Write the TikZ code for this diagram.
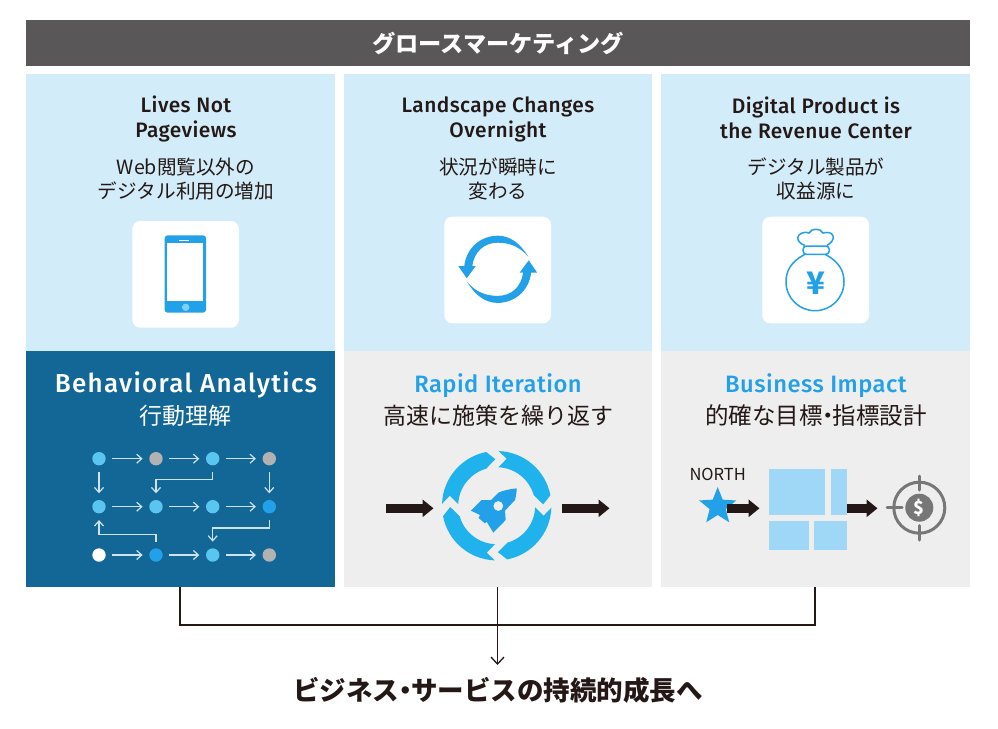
\documentclass[tikz,border=0pt]{standalone}
\usepackage{fontspec}
\setmainfont{Noto Sans CJK JP}
\newfontfamily\titlefont[LetterSpace=2]{Fira Sans Medium}
\newfontfamily\headfont[LetterSpace=2]{Fira Sans Medium}
\newfontfamily\widefont[LetterSpace=5]{Fira Sans Medium}
\newcommand{\midmark}{\kern-.28em・\kern-.28em}
\usetikzlibrary{arrows.meta,shapes.geometric}
\definecolor{headgray}{HTML}{595757}
\definecolor{paleblue}{HTML}{D2ECF9}
\definecolor{palegray}{HTML}{EEEEEE}
\definecolor{deepblue}{HTML}{126796}
\definecolor{iconblue}{HTML}{22A0E8}
\definecolor{ringblue}{HTML}{20B2EC}
\definecolor{skyblue}{HTML}{5BC5F2}
\definecolor{dotgray}{HTML}{B2B2B2}
\definecolor{tileblue}{HTML}{9FD8F6}
\definecolor{inkblack}{HTML}{231815}
\definecolor{flowline}{HTML}{CFE3EE}
\definecolor{targetgray}{HTML}{777777}
\tikzset{
  titletext/.style={font=\fontsize{20.9}{25.2}\selectfont\titlefont, text=inkblack, align=center},
  subtext/.style={font=\fontsize{19.6}{24.5}\selectfont, text=inkblack, align=center},
  headtext/.style={font=\fontsize{23.7}{30}\selectfont\headfont},
  jptext/.style={font=\fontsize{23}{28}\selectfont, text=inkblack},
  iconbox/.style={fill=white, rounded corners=8pt},
  dot/.style={circle, inner sep=0pt, minimum size=13.4pt, fill=#1},
  flowarrow/.style={draw=flowline, line width=1.2pt, -{Straight Barb[length=5pt,width=9pt]}, shorten >=6.5pt, shorten <=6.5pt},
  bigarrow/.style={draw=inkblack, line width=9pt, -{Triangle[length=11pt,width=17pt]}},
  linkline/.style={draw=inkblack, line width=1.3pt}
}
\begin{document}
\begin{tikzpicture}[x=1pt,y=-1pt]
\useasboundingbox (0,0) rectangle (998,728);
% header and panels
\fill[headgray] (26,20) rectangle (970,66);
\node[font=\fontsize{23.2}{28}\selectfont\bfseries, text=white] (header) at (498,43) {グロースマーケティング};
\fill[paleblue] (26,74) rectangle (335,351);
\fill[paleblue] (344,74) rectangle (652,351);
\fill[paleblue] (661,74) rectangle (970,351);
\fill[deepblue] (26,351) rectangle (335,587);
\fill[palegray] (344,351) rectangle (652,587);
\fill[palegray] (661,351) rectangle (970,587);
% upper texts
\node[titletext] (title1) at (186,119) {Lives Not\\Pageviews};
\node[titletext] (title2) at (498,119.5) {Landscape Changes\\Overnight};
\node[titletext] (title3) at (816,117.5) {Digital Product is\\the Revenue Center};
\node[subtext] (sub1) at (186,179) {Web閲覧以外の\\デジタル利用の増加};
\node[subtext] (sub2) at (498,179) {状況が瞬時に\\変わる};
\node[subtext] (sub3) at (816,179) {デジタル製品が\\収益源に};
% phone
\fill[iconbox] (132.3,221) rectangle (239,327.7);
\fill[iconblue, rounded corners=3pt] (164.7,235.3) rectangle (206,312.7);
\fill[white] (167.3,243.3) rectangle (203.3,301.3);
\fill[white] (179,239.6) rectangle (189,240.8);
\fill[skyblue!80!white] (185.7,307.3) circle (3.7);
% sync arrows
\fill[iconbox] (444.3,216.7) rectangle (551,323.3);
\foreach \rot in {0,180}
  \fill[iconblue, rotate around={\rot:(497.7,269.3)}] (528.3,256.7) .. controls (520,243) and (510,235.7) .. (497.7,235.7) .. controls (480,235.7) and (466,249) .. (464.3,266) -- (458.3,266) -- (466.7,278.3) -- (475.7,266) -- (472.3,266) .. controls (474,252) and (484,242.7) .. (497.7,242.7) .. controls (510,242.7) and (520,247) .. (528.3,256.7) -- cycle;
% money bag
\fill[iconbox] (762.3,216.7) rectangle (869,323.3);
\draw[iconblue, line width=1.5pt] (805,254.3) .. controls (790,262) and (786,272) .. (786,281.7) .. controls (786,298) and (799,310.7) .. (815,310.7) .. controls (831,310.7) and (844,298) .. (844,281.7) .. controls (844,272) and (840,262) .. (825,254.3);
\draw[iconblue, line width=1.5pt, rounded corners=3.5pt] (803,246) rectangle (829.3,254.3);
\draw[iconblue, line width=1.5pt] (805,245.5) .. controls (798,243) and (796,238) .. (799,235) .. controls (802,232) and (806,232) .. (809,233) .. controls (811,228) and (821,228) .. (823,233) .. controls (827,232) and (832,232) .. (833,236) .. controls (834,240) and (831,243) .. (827,245.5);
\node[font=\fontsize{31}{31}\selectfont\bfseries, text=iconblue, inner sep=0pt] (yen) at (815.5,283.5) {¥};
% lower texts
\node[font=\fontsize{26}{30}\selectfont\widefont, text=white] (head1) at (186,385) {Behavioral Analytics};
\node[headtext, text=iconblue] (head2) at (498,386) {Rapid Iteration};
\node[headtext, text=iconblue] (head3) at (816,386) {Business Impact};
\node[jptext, text=white] (jp1) at (185,416) {行動理解};
\node[jptext] (jp2) at (498,416) {高速に施策を繰り返す};
\node[jptext, font=\fontsize{23.5}{28}\selectfont] (jp3) at (816,416) {的確な目標\midmark 指標設計};
% flow of dots
\node[dot=skyblue] (d11) at (99,458.7) {};
\node[dot=dotgray] (d12) at (156,458.7) {};
\node[dot=skyblue] (d13) at (212.7,458.7) {};
\node[dot=dotgray] (d14) at (269.3,458.7) {};
\node[dot=skyblue] (d21) at (99,506.7) {};
\node[dot=skyblue] (d22) at (156,506.7) {};
\node[dot=skyblue] (d23) at (212.7,506.7) {};
\node[dot=iconblue] (d24) at (269.3,506.7) {};
\node[dot=white] (d31) at (99,555) {};
\node[dot=iconblue] (d32) at (156,555) {};
\node[dot=skyblue] (d33) at (212.7,555) {};
\node[dot=dotgray] (d34) at (269.3,555) {};
\foreach \r in {1,2,3}
  \foreach \a/\b in {1/2,2/3,3/4}
    \draw[flowarrow] (d\r\a) -- (d\r\b);
\draw[flowarrow] (d11) -- (d21);
\draw[flowarrow] (d14) -- (d24);
\draw[flowarrow] (d13.south) -- ++(0,13.9) -| (d22.north);
\draw[flowarrow] (d24.south) -- ++(0,14.3) -| (d33.north);
\draw[flowarrow] (d32.north) -- ++(0,-14) -| (d21.south);
% rocket and ring
\coordinate (in2) at (386,508.3);
\coordinate (out2) at (609.5,508.3);
\coordinate (ringin) at (433.5,508.3);
\coordinate (ringout) at (561.7,508.3);
\draw[bigarrow] (in2) -- (ringin);
\draw[bigarrow] (ringout) -- (out2);
\foreach \rot in {0,90,180,270}
  \fill[ringblue, shift={(496.7,505.7)}, yscale=-1, rotate=\rot] (88:54.7) arc[start angle=88, end angle=11, radius=54.7] -- (1.6:46.5) -- (16:38.5) arc[start angle=16, end angle=87.5, radius=38.5] -- (78:48) -- cycle;
\fill[iconblue, even odd rule] (516.7,488.3) .. controls (510,489) and (503,490.5) .. (498.3,492.7) -- (491,500) -- (481.7,500) -- (471,510.7) -- (480,515) -- (478.5,518) -- (485,523.3) -- (486.7,521.7) -- (493.3,532.7) -- (505.7,520) -- (505,510.7) -- (515,500) .. controls (516,496) and (516.7,492) .. (516.7,488.3) -- cycle (498.3,506) circle (5);
% north star, tiles and target
\node[font=\fontsize{16.5}{20}\selectfont, text=inkblack] (north) at (717.7,474.3) {NORTH};
\node[star, star points=5, star point ratio=2.3, fill=iconblue, minimum size=39pt, inner sep=0pt] (star) at (717.7,506.5) {};
\coordinate (tilein) at (759.5,508.3);
\coordinate (tileout) at (846.7,508.3);
\coordinate (targetin) at (877.5,508.3);
\draw[bigarrow] (727.3,508.3) -- (tilein);
\fill[tileblue] (769,468.7) rectangle (825,515);
\fill[tileblue] (831,468.7) rectangle (846.7,515);
\fill[tileblue] (769,521.3) rectangle (809,550);
\fill[tileblue] (814.3,521.3) rectangle (846.7,550);
\draw[bigarrow] (tileout) -- (targetin);
\draw[targetgray, line width=3pt] (919.3,507.7) circle (25.5);
\draw[targetgray, line width=3pt, line cap=round] (887,507.7) -- (902,507.7) (919.3,476) -- (919.3,490) (919.3,525.5) -- (919.3,540);
\node[circle, fill=targetgray, inner sep=0pt, minimum size=28pt, font=\fontsize{18}{18}\selectfont\bfseries, text=white] (dollar) at (919.3,507.7) {\$};
% connector below
\coordinate (foot1) at (180,587);
\coordinate (foot2) at (497.5,587);
\coordinate (foot3) at (815,587);
\coordinate (goal) at (497.5,665);
\draw[linkline] (foot1) -- ++(0,38) -| (foot3);
\draw[linkline, -{Straight Barb[length=7pt,width=13pt]}] (foot2) -- (goal);
\node[font=\fontsize{26.5}{30}\selectfont\bfseries, text=inkblack] (result) at (498,690) {ビジネス\midmark サービスの持続的成長へ};
\end{tikzpicture}
\end{document}
